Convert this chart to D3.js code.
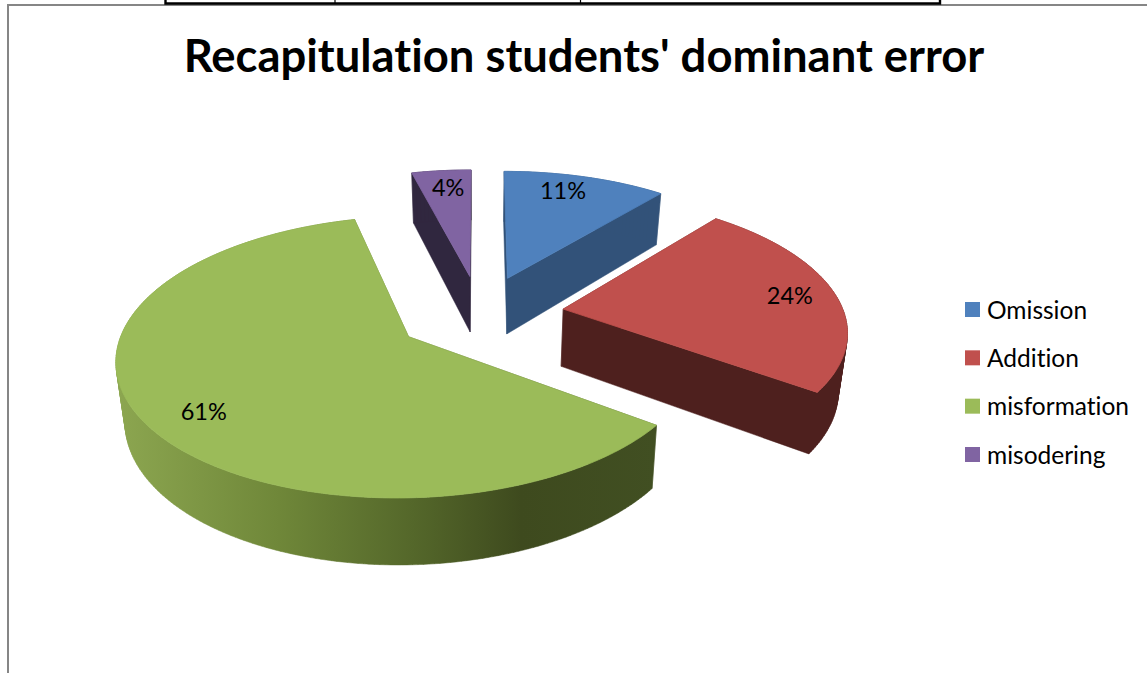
<!DOCTYPE html>
<html>
<head>
<meta charset="utf-8">
<script src="https://cdn.jsdelivr.net/npm/d3@7/dist/d3.min.js"></script>
<style>
  html, body { margin: 0; padding: 0; background: #fff; overflow: hidden; }
  svg { display: block; }
  text { font-family: Lato, "Noto Sans", sans-serif; fill: #000; font-variant-ligatures: none; }
</style>
</head>
<body>
<svg id="chart" width="1147" height="673"></svg>
<script>
// Chart content
const categories = ["Omission", "Addition", "misformation", "misodering"];
const percents = [11, 24, 61, 4];
const chartTitle = "Recapitulation students' dominant error";

// Slice colours: top face and side wall
const topColors = ["#4f81bd", "#c0504d", "#9bbb59", "#8064a2"];
const wallColors = ["#325279", "#4e201e", "url(#frontWall)", "#30273f"];

// Data label placement along each slice's mid-angle, with small nudges
const labelRadius = [0.85, 0.8, 0.75, 0.85];
const labelNudgeX = [-12, 9, -10, 3];
const labelNudgeY = [0, 0, 13, 3];

// Painter's order, back to front
const drawOrder = [3, 0, 1, 2];

// Perspective pie geometry
const view = { cx: 480, cy: 314, rx: 308, ry: 144, explode: 0.30, depth: 63, floorX: 0.975, floorY: 0.99 };
const perspective = z => 1 / (1.096 - 0.155 * z);

const svg = d3.select("#chart");

// Frame around the chart and the table rules above it
const frame = svg.append("g");
frame.append("path").attr("d", "M8,673V5H1147").attr("fill", "none").attr("stroke", "#868686").attr("stroke-width", 2);
frame.append("path").attr("d", "M165.5,0V3.5H940V0").attr("fill", "none").attr("stroke", "#000").attr("stroke-width", 2.4);
frame.append("path").attr("d", "M335,0V3M580.5,0V3").attr("fill", "none").attr("stroke", "#000").attr("stroke-width", 1.2);

// Title
svg.append("text")
  .attr("x", 584).attr("y", 72)
  .attr("text-anchor", "middle")
  .attr("font-size", 45.4).attr("font-weight", 700)
  .text(chartTitle);

// Gradient for the long front wall of the largest slice
const grad = svg.append("defs").append("linearGradient")
  .attr("id", "frontWall").attr("gradientUnits", "userSpaceOnUse")
  .attr("x1", 118).attr("x2", 656).attr("y1", 0).attr("y2", 0);
[[0, "#8ca650"], [0.3, "#6f8739"], [0.55, "#54672a"], [0.75, "#3e4a1e"], [1, "#414f22"]]
  .forEach(([o, c]) => grad.append("stop").attr("offset", o).attr("stop-color", c));

const pie = d3.pie().sort(null).startAngle(0).endAngle(2 * Math.PI);
const arcs = pie(percents);

// Ground-plane position for a fraction of the radius along an angle inside a slice
function ground(d, angle, frac) {
  const mid = (d.startAngle + d.endAngle) / 2;
  return {
    x: frac * Math.sin(angle) + view.explode * Math.sin(mid),
    z: -frac * Math.cos(angle) - view.explode * Math.cos(mid)
  };
}
const onTop = g => {
  const w = perspective(g.z);
  return [view.cx + g.x * view.rx * w, view.cy + g.z * view.ry * w];
};
const onFloor = g => {
  const w = perspective(g.z);
  return [
    view.cx + g.x * view.rx * w * view.floorX,
    view.cy + g.z * view.ry * w * view.floorY + view.depth * w
  ];
};

const line = d3.line();
const rim = d => d3.range(0, 1.0001, 1 / Math.max(8, Math.round((d.endAngle - d.startAngle) * 60)))
  .map(t => d.startAngle + t * (d.endAngle - d.startAngle));

// A quad between two ground points, wound the same way whichever way it faces,
// so that overlapping quads in one path merge under the nonzero fill rule
function wallQuad(a, b) {
  const pts = [onTop(a), onTop(b), onFloor(b), onFloor(a)];
  if (d3.polygonArea(pts) < 0) pts.reverse();
  return line(pts) + "Z";
}

const pieLayer = svg.append("g");
drawOrder.forEach(i => {
  const d = arcs[i];
  const apex = ground(d, d.startAngle, 0);
  const outer = rim(d).map(a => ground(d, a, 1));
  const first = outer[0], last = outer[outer.length - 1];
  const g = pieLayer.append("g");

  // Radial walls and the curved outer wall, painted as a single shape
  const walls = [wallQuad(apex, first), wallQuad(apex, last)]
    .concat(d3.pairs(outer).map(([a, b]) => wallQuad(a, b)));
  g.append("path")
    .attr("d", walls.join(""))
    .attr("fill", wallColors[i])
    .attr("fill-rule", "nonzero")
    .attr("stroke", wallColors[i])
    .attr("stroke-width", 0.5);

  // Top face, stroked in its own colour so no wall shows around it
  g.append("path")
    .attr("d", line([onTop(apex)].concat(outer.map(onTop))) + "Z")
    .attr("fill", topColors[i])
    .attr("stroke", topColors[i])
    .attr("stroke-width", 0.8);
});

// Percentage labels
arcs.forEach((d, i) => {
  const mid = (d.startAngle + d.endAngle) / 2;
  const [x, y] = onTop(ground(d, mid, labelRadius[i]));
  svg.append("text")
    .attr("x", x + labelNudgeX[i]).attr("y", y + labelNudgeY[i])
    .attr("dy", "0.35em").attr("text-anchor", "middle")
    .attr("font-size", 23.5)
    .text(d.data + "%");
});

// Legend
const legendY = d3.scalePoint().domain(categories).range([310, 455]);
const legend = svg.append("g");
categories.forEach((c, i) => {
  legend.append("rect")
    .attr("x", 965).attr("y", legendY(c) - 8)
    .attr("width", 15).attr("height", 15)
    .attr("fill", topColors[i]);
  legend.append("text")
    .attr("x", 987).attr("y", legendY(c)).attr("dy", "0.35em")
    .attr("font-size", 24.5)
    .text(c);
});
</script>
</body>
</html>
